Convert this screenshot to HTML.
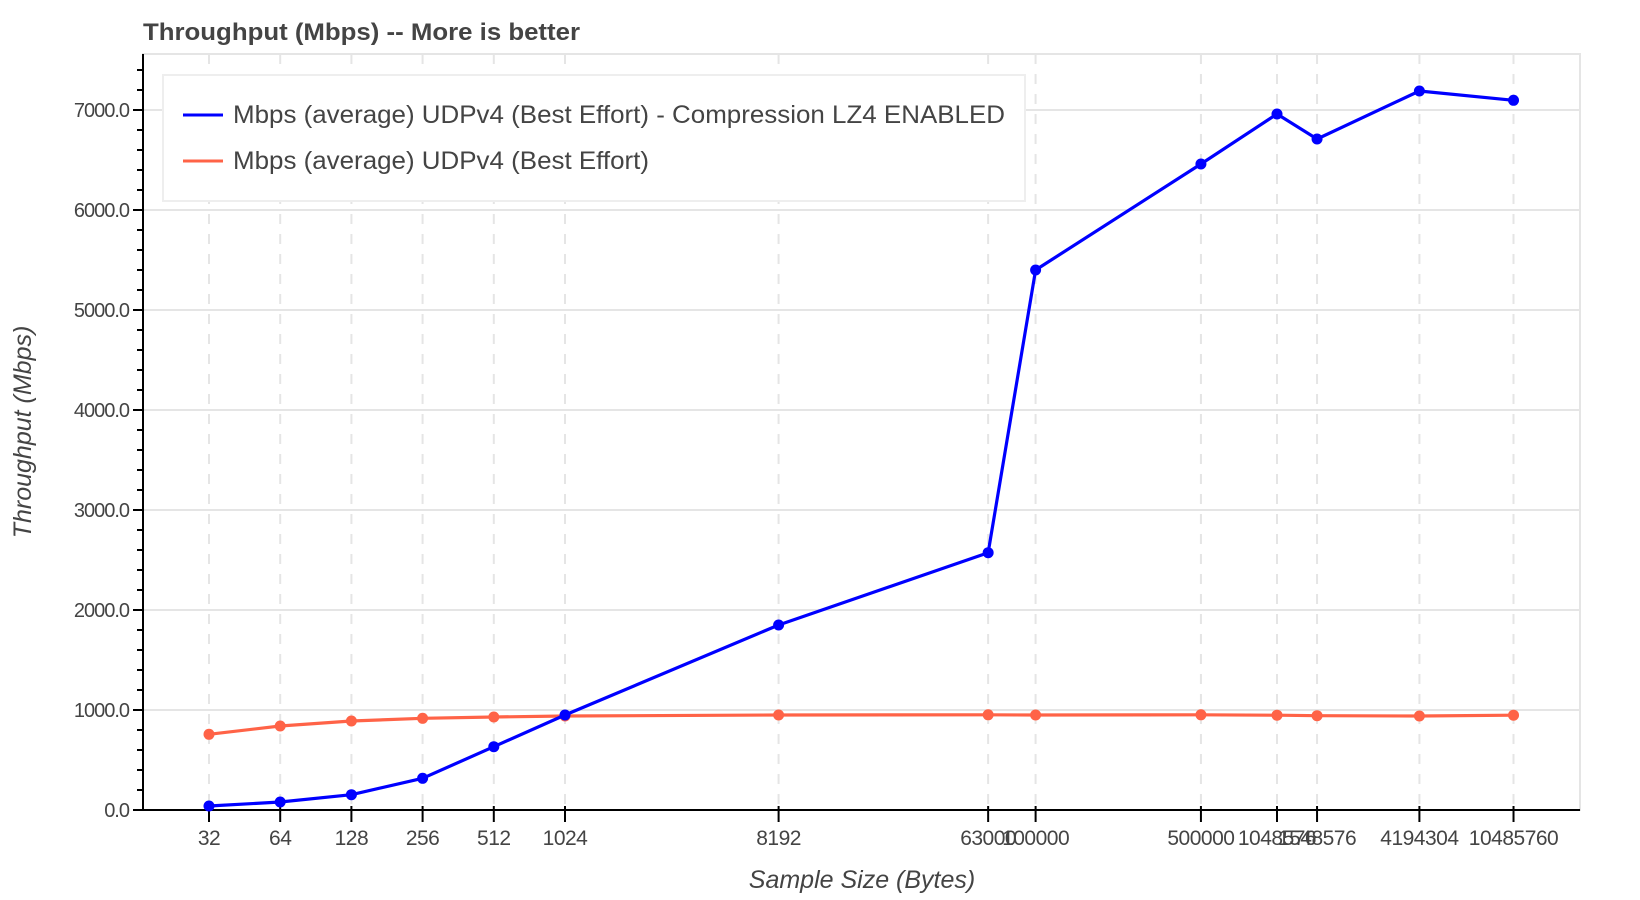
<!DOCTYPE html>
<html><head><meta charset="utf-8"><style>
html,body{margin:0;padding:0;background:#fff;}
svg{display:block;font-family:"Liberation Sans",Arial,sans-serif;}
</style></head><body>
<svg id="chart" width="1640" height="900" viewBox="0 0 1640 900" xmlns="http://www.w3.org/2000/svg">
<text x="143" y="40" font-size="24" font-weight="bold" fill="#444" textLength="437" lengthAdjust="spacingAndGlyphs">Throughput (Mbps) -- More is better</text>
<g id="grid"></g>
<g id="axes"></g>
<g id="series"></g>
<text x="862" y="888" font-size="25" font-style="italic" fill="#444" text-anchor="middle">Sample Size (Bytes)</text>
<text transform="translate(31,432) rotate(-90)" font-size="25" font-style="italic" fill="#444" text-anchor="middle">Throughput (Mbps)</text>
<g>
<rect x="163" y="75" width="862" height="126" fill="#fff" stroke="#eee" stroke-width="2"/>
<line x1="183" y1="115" x2="223" y2="115" stroke="#0000ff" stroke-width="3"/>
<text x="233" y="123" font-size="25" fill="#444" textLength="772" lengthAdjust="spacingAndGlyphs">Mbps (average) UDPv4 (Best Effort) - Compression LZ4 ENABLED</text>
<line x1="183" y1="161" x2="223" y2="161" stroke="#ff6347" stroke-width="3"/>
<text x="233" y="169" font-size="25" fill="#444" textLength="416" lengthAdjust="spacingAndGlyphs">Mbps (average) UDPv4 (Best Effort)</text>
</g>
</svg>
<script>
const sizes = [32,64,128,256,512,1024,8192,63000,100000,500000,1048576,1548576,4194304,10485760];
const tickLabels = ["32","64","128","256","512","1024","8192","63000","100000","500000","1048576","1548576","4194304","10485760"];
const lz4Values = [40,80,153,317,633,950,1850,2573,5400,6460,6960,6710,7190,7097];
const plainValues = [757,840,890,917,930,940,950,952,950,952,948,943,940,948];
const yTicks = [0,1000,2000,3000,4000,5000,6000,7000];

const NS="http://www.w3.org/2000/svg";
const L=143,R=1580,T=54,B=810;
function xs(v){return 565+(Math.log2(v)-10)*71.2;}
function ys(v){return 810-v*0.1;}
function mk(tag,attrs,parent){const e=document.createElementNS(NS,tag);for(const k in attrs)e.setAttribute(k,attrs[k]);parent.appendChild(e);return e;}
const grid=document.getElementById('grid'),axes=document.getElementById('axes'),ser=document.getElementById('series');
const fr=mk('rect',{x:L,y:T,width:R-L,height:B-T,fill:'none',stroke:'#e5e5e5','stroke-width':2},grid);


yTicks.forEach(v=>{
  const g=mk('line',{x1:L,x2:R,y1:ys(v),y2:ys(v),stroke:'#e5e5e5','stroke-width':2},grid);
  
  
  const t=mk('line',{x1:L-10,x2:L,y1:ys(v),y2:ys(v),stroke:'#000','stroke-width':2},axes);
  
  
  const lb=mk('text',{x:L-14,y:ys(v)+7,'font-size':20,fill:'#444','text-anchor':'end','letter-spacing':'-1'},axes);
  lb.textContent=v.toFixed(1);
  
  
});
for(let v=200;v<7600;v+=200){ if(v%1000===0)continue;
  const m=mk('line',{x1:L-6,x2:L,y1:ys(v),y2:ys(v),stroke:'#000','stroke-width':2},axes);
  
  
}
sizes.forEach((s,i)=>{
  const x=xs(s);
  const g=mk('line',{x1:x,x2:x,y1:T,y2:B,stroke:'#e5e5e5','stroke-width':2,'stroke-dasharray':'10 10'},grid);
  
  
  const t=mk('line',{x1:x,x2:x,y1:B-4,y2:B+12,stroke:'#000','stroke-width':2},axes);
  
  
  const lb=mk('text',{x:x,y:B+35,'font-size':21,fill:'#444','text-anchor':'middle','letter-spacing':'-0.5'},axes);
  lb.textContent=tickLabels[i];
  
  
});
const ya=mk('line',{x1:L,x2:L,y1:T,y2:B+1,stroke:'#000','stroke-width':2},axes);


const xa=mk('line',{x1:L-10,x2:R,y1:B,y2:B,stroke:'#000','stroke-width':2},axes);


function drawSeries(vals,color,name){
  const pts=sizes.map((s,i)=>xs(s)+','+ys(vals[i])).join(' ');
  const pl=mk('polyline',{points:pts,fill:'none',stroke:color,'stroke-width':3.2,'stroke-linejoin':'round'},ser);
  
  
  sizes.forEach((s,i)=>{
    const c=mk('circle',{cx:xs(s),cy:ys(vals[i]),r:5.5,fill:color},ser);
    
    
  });
}
drawSeries(plainValues,'#ff6347','plain-series');
drawSeries(lz4Values,'#0000ff','lz4-series');
</script>
</body></html>
